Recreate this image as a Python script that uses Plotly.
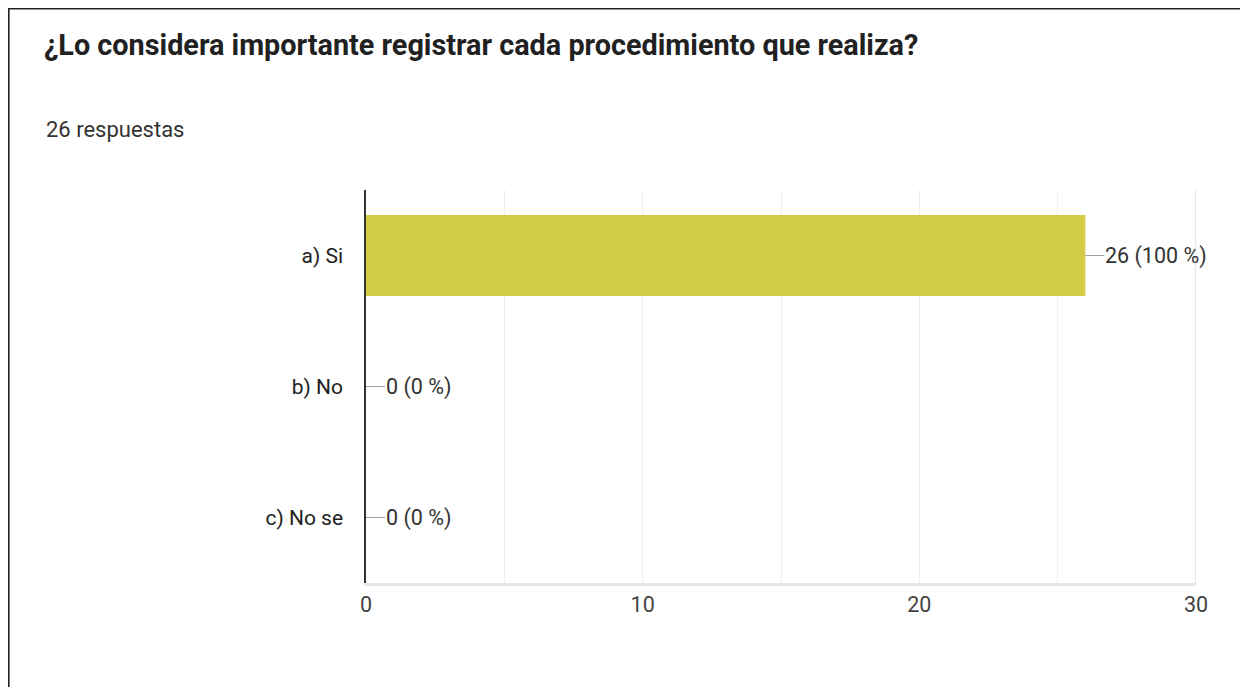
import plotly.graph_objects as go

# ---- data ----
categories = ["a) Si", "b) No", "c) No se"]
counts = [26, 0, 0]
percents = [100, 0, 0]
x_tick_vals = [0, 10, 20, 30]
x_tick_text = ["0", "10", "20", "30"]
title_text = "¿Lo considera importante registrar cada procedimiento que realiza?"
subtitle_text = "26 respuestas"

# page body has an 8px margin; figure coords = reference coords - 8
W, H = 1240, 679
L, R, T, B = 358, 52, 182, 104
pw, ph = W - L - R, H - T - B


def px_x(px):
    return (px - L) / pw


def px_y(py):
    return 1 - (py - T) / ph


fig = go.Figure()
fig.add_trace(go.Bar(
    x=counts, y=categories, orientation="h",
    marker=dict(color="#d3cc45", line=dict(width=0)),
    width=0.62, hoverinfo="skip",
))

annotations = []
for c, v, p in zip(categories, counts, percents):
    annotations.append(dict(
        x=v, y=c, xref="x", yref="y",
        text=f"{v} ({p} %)", showarrow=True, arrowhead=0,
        arrowwidth=1.2, arrowcolor="#9e9e9e", ax=19, ay=0,
        xanchor="left", yanchor="middle", borderpad=0, standoff=0,
        font=dict(family="Roboto", size=21.5, color="#333333"),
    ))

annotations.append(dict(
    x=px_x(36), y=px_y(121), xref="paper", yref="paper",
    text=subtitle_text, showarrow=False, xanchor="left", yanchor="middle",
    font=dict(family="Roboto", size=22, color="#333333"),
))

border = dict(
    type="path", xref="paper", yref="paper",
    path=(f"M {px_x(0.8)},{px_y(H + 5)} L {px_x(0.8)},{px_y(0.8)} "
          f"L {px_x(1237)},{px_y(0.8)} L {px_x(1237)},{px_y(H + 5)}"),
    line=dict(color="#222222", width=1.6), layer="above",
)

fig.update_layout(
    width=W, height=H,
    margin=dict(l=L, r=R, t=T, b=B),
    paper_bgcolor="white", plot_bgcolor="white",
    showlegend=False,
    title=dict(
        text=f"<b>{title_text}</b>", x=36 / W, xanchor="left",
        y=1 - 37 / H, yanchor="middle", xref="container", yref="container",
        font=dict(family="Roboto", size=28.8, color="#212121"),
    ),
    xaxis=dict(
        range=[0, 30], tickvals=x_tick_vals, ticktext=x_tick_text,
        showgrid=True, gridcolor="#eeeeee", gridwidth=1,
        minor=dict(dtick=5, showgrid=True, gridcolor="#eeeeee", gridwidth=1),
        zeroline=False, showline=True, linecolor="#e6e6e6", linewidth=3,
        mirror=False, ticks="", ticklen=0,
        tickfont=dict(family="Roboto", size=21.5, color="#444444"),
        fixedrange=True,
    ),
    yaxis=dict(
        autorange="reversed", showgrid=False, zeroline=False,
        showline=True, linecolor="#333333", linewidth=1.5,
        ticks="", ticklabelstandoff=17,
        tickfont=dict(family="Roboto", size=21, color="#222222"),
        fixedrange=True,
    ),
    annotations=annotations,
    shapes=[
        border,
        dict(type="line", xref="x", yref="paper", x0=30, x1=30, y0=0, y1=1,
             line=dict(color="#e6e6e6", width=2), layer="below"),
    ],
)

fig.write_html("out.html")
